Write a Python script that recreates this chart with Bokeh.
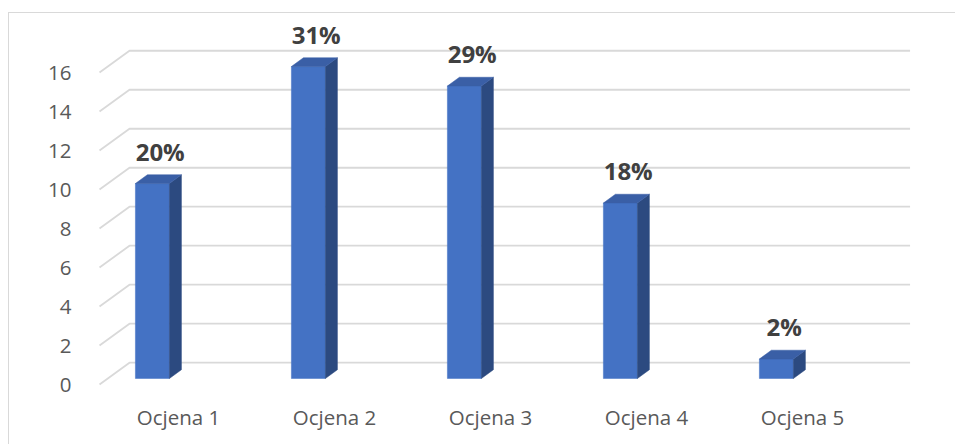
import numpy as np
from bokeh.plotting import figure
from bokeh.models import Range1d, FixedTicker, ColumnDataSource
from bokeh.core.properties import value
from bokeh.embed import file_html
from bokeh.resources import INLINE

# ---- data ----
categories = ["Ocjena 1", "Ocjena 2", "Ocjena 3", "Ocjena 4", "Ocjena 5"]
counts = [10, 16, 15, 9, 1]
pct_labels = ["20%", "31%", "29%", "18%", "2%"]
y_ticks = [0, 2, 4, 6, 8, 10, 12, 14, 16]

# ---- 3D-look style constants ----
BAR_SHIFT = -0.167   # bar front centre relative to category label
BAR_W = 0.218
DEPTH_X = 0.077
DEPTH_Y = 0.45
BASE = 0.31
WALL_X0 = 0.494
WALL_X1 = 0.686
WALL_X2 = 5.69
WALL_DY = 1.12
LABEL_SHIFT = 0.05
LABEL_DY = 1.65

FRONT = "#4472C4"
SIDE = "#2C4A80"
TOP = "#3A5FA6"
GRID = "#D9D9D9"
TICK_TXT = "#595959"
LBL_TXT = "#404040"

pos = np.arange(1, len(categories) + 1, dtype=float)
vals = np.array(counts, dtype=float)
cx = pos + BAR_SHIFT
left = cx - BAR_W / 2
right = cx + BAR_W / 2
bottom = np.full_like(vals, BASE)
top = vals + BASE

p = figure(width=947, height=432,
           x_range=Range1d(0.481, 5.712), y_range=Range1d(-0.46, 18.62),
           output_backend="svg", toolbar_location=None,
           min_border_left=88, min_border_right=43,
           min_border_top=8, min_border_bottom=52)
p.margin = (12, 0, 0, 8)
p.styles = {"border-top": "1px solid #d9d9d9", "border-left": "1px solid #d9d9d9"}
p.outline_line_color = None
p.xgrid.visible = False
p.ygrid.visible = False
p.background_fill_color = "white"
p.border_fill_color = "white"

# gridlines (floor-to-wall perspective)
gxs = [[WALL_X0, WALL_X1, WALL_X2] for _ in y_ticks]
gys = [[t, t + WALL_DY, t + WALL_DY] for t in y_ticks]
p.multi_line(gxs, gys, line_color=GRID, line_width=1.8)

# bars: front, side, top faces
p.quad(left=left, right=right, bottom=bottom, top=top,
       fill_color=FRONT, line_color=FRONT, line_width=0.5)
side_xs = [[r, r, r + DEPTH_X, r + DEPTH_X] for r in right]
side_ys = [[b, t, t + DEPTH_Y, b + DEPTH_Y] for b, t in zip(bottom, top)]
p.patches(side_xs, side_ys, fill_color=SIDE, line_color=SIDE, line_width=0.5)
top_xs = [[l, r, r + DEPTH_X, l + DEPTH_X] for l, r in zip(left, right)]
top_ys = [[t, t, t + DEPTH_Y, t + DEPTH_Y] for t in top]
p.patches(top_xs, top_ys, fill_color=TOP, line_color=TOP, line_width=0.5)

# data labels
lsrc = ColumnDataSource(dict(x=cx + LABEL_SHIFT, y=top + LABEL_DY, t=pct_labels))
p.text(x="x", y="y", text="t", source=lsrc, text_align="center",
       text_baseline="alphabetic", text_font=value("Open Sans"),
       text_font_style="bold", text_font_size="24px", text_color=LBL_TXT)

# axes
p.xaxis.ticker = FixedTicker(ticks=list(pos))
p.xaxis.major_label_overrides = {float(i): c for i, c in zip(pos, categories)}
p.yaxis.ticker = FixedTicker(ticks=y_ticks)
for ax in (p.xaxis[0], p.yaxis[0]):
    ax.axis_line_color = None
    ax.major_tick_line_color = None
    ax.minor_tick_line_color = None
    ax.major_label_text_font = "Open Sans"
    ax.major_label_text_font_size = "20.5px"
    ax.major_label_text_color = TICK_TXT
p.xaxis.major_label_standoff = 3
p.yaxis.major_label_standoff = 20

open("out.html", "w").write(file_html(p, INLINE))
